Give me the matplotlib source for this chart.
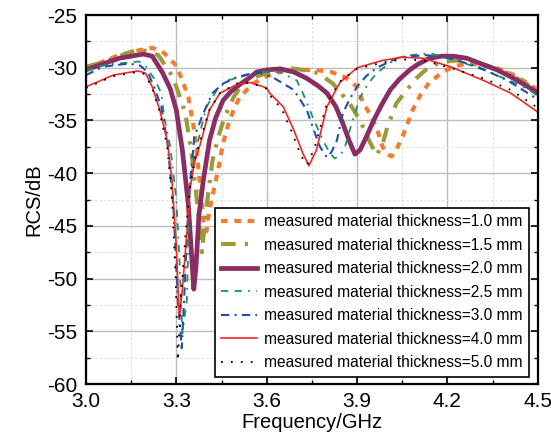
import matplotlib.pyplot as plt
from matplotlib.ticker import MultipleLocator

plt.rcParams['font.family'] = ['Liberation Sans', 'DejaVu Sans']

x_10 = [3.00, 3.05, 3.10, 3.15, 3.20, 3.22, 3.26, 3.30, 3.32, 3.34, 3.36, 3.375, 3.39, 3.40, 3.41, 3.425,
        3.44, 3.455, 3.47, 3.49, 3.51, 3.555, 3.60, 3.655, 3.71, 3.76, 3.815, 3.86, 3.90, 3.92, 3.945,
        3.965, 3.985, 4.00, 4.015, 4.03, 4.05, 4.085, 4.11, 4.14, 4.185, 4.22, 4.26, 4.31, 4.36, 4.40,
        4.44, 4.50]
y_10 = [-30.0, -29.5, -28.9, -28.5, -28.2, -28.1, -28.6, -29.8, -31.2, -32.8, -36.0, -40.0, -44.5, -45.5,
        -43.5, -41.5, -39.5, -37.2, -35.6, -34.0, -32.8, -31.5, -30.8, -30.3, -30.2, -30.2, -30.4, -30.9,
        -31.8, -33.3, -34.5, -35.7, -37.5, -38.2, -38.4, -37.8, -36.6, -34.0, -32.6, -31.4, -30.4, -29.9,
        -29.6, -29.7, -30.0, -30.4, -31.0, -32.1]

x_15 = [3.00, 3.056, 3.10, 3.17, 3.20, 3.24, 3.28, 3.30, 3.33, 3.35, 3.37, 3.385, 3.40, 3.42, 3.44, 3.46,
        3.49, 3.52, 3.56, 3.60, 3.667, 3.72, 3.77, 3.82, 3.876, 3.91, 3.94, 3.965, 3.985, 4.00, 4.03,
        4.065, 4.10, 4.14, 4.19, 4.24, 4.30, 4.35, 4.40, 4.45, 4.50]
y_15 = [-29.9, -29.5, -29.0, -28.3, -28.4, -28.8, -30.5, -31.8, -34.3, -38.0, -43.0, -47.5, -43.2, -38.8,
        -36.5, -34.7, -32.8, -31.5, -30.9, -30.5, -30.0, -30.2, -30.5, -31.5, -33.4, -35.0, -36.9, -38.3,
        -37.2, -35.7, -33.4, -32.1, -30.9, -29.9, -29.4, -29.3, -29.5, -30.0, -30.5, -31.3, -32.2]

x_20 = [3.00, 3.05, 3.11, 3.15, 3.19, 3.22, 3.255, 3.28, 3.30, 3.32, 3.34, 3.35, 3.358, 3.365, 3.375,
        3.39, 3.41, 3.43, 3.455, 3.48, 3.51, 3.54, 3.567, 3.60, 3.645, 3.69, 3.733, 3.77, 3.80, 3.83,
        3.853, 3.875, 3.893, 3.91, 3.93, 3.955, 3.98, 4.01, 4.04, 4.075, 4.10, 4.14, 4.18, 4.22, 4.265,
        4.31, 4.365, 4.42, 4.485, 4.50]
y_20 = [-30.2, -29.7, -29.1, -28.9, -28.7, -28.9, -30.5, -32.0, -34.0, -37.8, -43.0, -47.5, -51.0, -49.0,
        -44.0, -40.6, -36.9, -34.8, -33.1, -32.3, -31.6, -31.0, -30.4, -30.2, -30.1, -30.4, -31.0, -31.7,
        -32.4, -33.7, -35.3, -37.0, -38.2, -37.8, -36.6, -35.0, -33.6, -32.1, -31.1, -30.2, -29.7, -29.1,
        -28.9, -28.9, -29.1, -29.6, -30.2, -31.0, -32.1, -32.4]

x_25 = [3.00, 3.066, 3.143, 3.176, 3.20, 3.23, 3.25, 3.26, 3.28, 3.30, 3.31, 3.32, 3.335, 3.34, 3.345,
        3.36, 3.38, 3.40, 3.435, 3.47, 3.51, 3.567, 3.645, 3.70, 3.72, 3.753, 3.787, 3.81, 3.826, 3.845,
        3.86, 3.883, 3.91, 3.935, 3.965, 4.03, 4.08, 4.14, 4.23, 4.32, 4.43, 4.50]
y_25 = [-30.3, -29.7, -29.5, -29.4, -29.9, -31.2, -32.4, -34.7, -37.5, -42.5, -48.0, -55.2, -52.0, -46.5,
        -41.0, -38.5, -36.0, -33.7, -32.1, -31.2, -30.9, -30.4, -30.4, -31.2, -32.4, -34.7, -36.9, -38.1,
        -38.6, -38.3, -37.5, -35.2, -32.8, -31.6, -30.5, -29.1, -28.8, -28.6, -29.3, -30.2, -31.5, -32.6]

x_30 = [3.00, 3.056, 3.143, 3.18, 3.205, 3.226, 3.25, 3.27, 3.29, 3.305, 3.318, 3.325, 3.335, 3.345, 3.36,
        3.39, 3.42, 3.455, 3.50, 3.567, 3.62, 3.69, 3.733, 3.76, 3.777, 3.80, 3.815, 3.833, 3.853, 3.875,
        3.90, 3.93, 3.965, 4.04, 4.13, 4.21, 4.30, 4.40, 4.50]
y_30 = [-30.7, -29.9, -29.6, -29.8, -30.4, -31.8, -33.7, -37.0, -43.0, -51.9, -56.6, -52.5, -46.0, -41.0,
        -36.5, -34.3, -32.4, -31.5, -30.9, -30.4, -30.9, -32.1, -34.0, -36.2, -37.5, -38.5, -38.0, -36.9,
        -34.3, -33.0, -31.8, -30.8, -30.0, -29.0, -28.8, -29.1, -29.9, -31.2, -33.0]

x_40 = [3.00, 3.05, 3.09, 3.13, 3.173, 3.197, 3.22, 3.245, 3.27, 3.285, 3.30, 3.31, 3.32, 3.335, 3.345,
        3.36, 3.38, 3.41, 3.445, 3.50, 3.545, 3.60, 3.61, 3.655, 3.69, 3.72, 3.74, 3.765, 3.80, 3.843,
        3.90, 3.985, 4.05, 4.12, 4.21, 4.32, 4.41, 4.50]
y_40 = [-31.8, -31.2, -30.7, -30.5, -30.3, -30.5, -31.8, -34.0, -36.9, -40.5, -47.0, -53.8, -51.0, -45.7,
        -41.6, -39.0, -37.2, -34.0, -32.4, -31.6, -31.4, -31.9, -32.4, -33.7, -35.9, -38.1, -39.3, -37.8,
        -33.7, -31.4, -30.0, -29.3, -29.0, -29.1, -29.9, -31.2, -32.4, -34.2]

x_50 = [3.00, 3.05, 3.09, 3.13, 3.17, 3.195, 3.22, 3.245, 3.27, 3.285, 3.298, 3.305, 3.315, 3.33, 3.345,
        3.36, 3.38, 3.41, 3.445, 3.50, 3.545, 3.60, 3.61, 3.65, 3.685, 3.715, 3.735, 3.76, 3.80, 3.843,
        3.90, 3.985, 4.05, 4.12, 4.21, 4.32, 4.41, 4.50]
y_50 = [-31.9, -31.3, -30.8, -30.6, -30.4, -30.6, -31.9, -34.2, -37.5, -42.0, -50.0, -57.8, -52.0, -46.0,
        -41.5, -38.8, -36.8, -34.0, -32.4, -31.5, -31.4, -32.0, -32.6, -33.9, -36.2, -38.4, -39.2, -37.5,
        -33.4, -31.3, -30.1, -29.5, -29.2, -29.3, -30.0, -31.0, -32.1, -33.8]

labels = ['measured material thickness=1.0 mm', 'measured material thickness=1.5 mm',
          'measured material thickness=2.0 mm', 'measured material thickness=2.5 mm',
          'measured material thickness=3.0 mm', 'measured material thickness=4.0 mm',
          'measured material thickness=5.0 mm']

fig = plt.figure(figsize=(5.51, 4.43), dpi=100)
ax = fig.add_axes([0.156, 0.133, 0.820, 0.833])

ax.plot(x_10, y_10, color='#F47C30', lw=3.0, dashes=(1.6, 1.6), label=labels[0])
ax.plot(x_15, y_15, color='#9C9B3A', lw=3.0, dashes=(3.5, 2.2, 0.8, 2.2), label=labels[1])
ax.plot(x_20, y_20, color='#8A2D62', lw=3.4, label=labels[2])
ax.plot(x_25, y_25, color='#16956A', lw=1.3, dashes=(4, 3.5, 4, 3.5, 1, 3.5), label=labels[3])
ax.plot(x_30, y_30, color='#1F4FA8', lw=1.5, dashes=(4, 2.5, 1, 2.5, 4, 2.5), label=labels[4])
ax.plot(x_40, y_40, color='#F02828', lw=1.2, label=labels[5])
ax.plot(x_50, y_50, color='black', lw=1.3, dashes=(1, 4.5), label=labels[6])

ax.set_xlim(3.0, 4.5)
ax.set_ylim(-60, -25)
ax.xaxis.set_major_locator(MultipleLocator(0.3))
ax.xaxis.set_minor_locator(MultipleLocator(0.15))
ax.yaxis.set_major_locator(MultipleLocator(5))
ax.yaxis.set_minor_locator(MultipleLocator(2.5))
ax.xaxis.set_major_formatter(plt.FormatStrFormatter('%.1f'))
ax.yaxis.set_major_formatter(plt.FormatStrFormatter('%d'))

ax.grid(which='major', color='#BDBDBD', lw=1.0)
ax.grid(which='minor', color='#DDDDDD', lw=0.8, ls=(0, (2, 2)))
ax.set_axisbelow(True)

ax.tick_params(which='both', direction='in', top=True, right=True, labelsize=15, colors='black')
ax.tick_params(which='major', length=5, width=1.2, pad=6)
ax.tick_params(which='minor', length=3, width=1.0)
for s in ax.spines.values():
    s.set_linewidth(1.6)

ax.set_xlabel('Frequency/GHz', fontsize=14.5, labelpad=1)
ax.set_ylabel('RCS/dB', fontsize=14.5, labelpad=3)

leg = ax.legend(loc='lower right', bbox_to_anchor=(0.98, 0.02), borderaxespad=0, fontsize=11.2,
                handlelength=2.3, handletextpad=0.45, labelspacing=0.55, fancybox=False,
                framealpha=1, edgecolor='black', borderpad=0.4)
leg.get_frame().set_linewidth(1.2)

fig.savefig('out.png', dpi=100)
